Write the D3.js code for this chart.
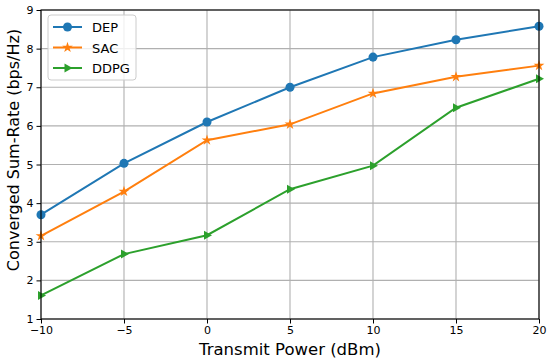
<!DOCTYPE html>
<html>
<head>
<meta charset="utf-8">
<script src="https://cdn.jsdelivr.net/npm/d3@7"></script>
<style>
  body { margin: 0; background: #fff; }
  text { font-family: "DejaVu Sans", sans-serif; }
</style>
</head>
<body>
<div id="chart"></div>
<script>
// data
const powers = [-10, -5, 0, 5, 10, 15, 20];
const dep = [3.70, 5.03, 6.10, 7.00, 7.78, 8.23, 8.58];
const sac = [3.15, 4.30, 5.63, 6.04, 6.84, 7.27, 7.56];
const ddpg = [1.61, 2.68, 3.17, 4.36, 4.97, 6.47, 7.22];
const seriesNames = ['DEP', 'SAC', 'DDPG'];
const xTicks = [-10, -5, 0, 5, 10, 15, 20];
const yTicks = [1, 2, 3, 4, 5, 6, 7, 8, 9];

const FIGURE = { WIDTH: 550, HEIGHT: 360 };
const MARGINS = { LEFT: 41, TOP: 10, RIGHT: 11, BOTTOM: 41 };
const PLOT = {
    WIDTH: FIGURE.WIDTH - MARGINS.LEFT - MARGINS.RIGHT,
    HEIGHT: FIGURE.HEIGHT - MARGINS.TOP - MARGINS.BOTTOM
};

const x = d3.scaleLinear().domain([-10, 20]).range([0, PLOT.WIDTH]);
const y = d3.scaleLinear().domain([1, 9]).range([PLOT.HEIGHT, 0]);

const series = [
    { name: seriesNames[0], values: dep, color: '#1f77b4', symbol: d3.symbolCircle, size: 64 },
    { name: seriesNames[1], values: sac, color: '#ff7f0e', symbol: d3.symbolStar, size: 36 },
    { name: seriesNames[2], values: ddpg, color: '#2ca02c', symbol: 'tri', size: 5 }
];

function marker(g, s) {
    if (s.symbol === 'tri') {
        const r = s.size;
        g.append('path')
            .attr('d', `M${r},0L${-r * 0.6},${-r * 0.9}L${-r * 0.6},${r * 0.9}Z`)
            .attr('fill', s.color);
    } else {
        g.append('path')
            .attr('d', d3.symbol().type(s.symbol).size(s.size)())
            .attr('fill', s.color);
    }
}

const svg = d3.select('#chart').append('svg')
    .attr('width', FIGURE.WIDTH)
    .attr('height', FIGURE.HEIGHT);

const plot = svg.append('g')
    .attr('transform', `translate(${MARGINS.LEFT}, ${MARGINS.TOP})`);

// grid
plot.append('g').selectAll('line').data(xTicks).enter().append('line')
    .attr('x1', d => x(d)).attr('x2', d => x(d))
    .attr('y1', 0).attr('y2', PLOT.HEIGHT)
    .attr('stroke', '#b0b0b0').attr('stroke-width', 1.1);
plot.append('g').selectAll('line').data(yTicks).enter().append('line')
    .attr('y1', d => y(d)).attr('y2', d => y(d))
    .attr('x1', 0).attr('x2', PLOT.WIDTH)
    .attr('stroke', '#b0b0b0').attr('stroke-width', 1.1);

// lines + markers
const line = d3.line().x((d, i) => x(powers[i])).y(d => y(d));
series.forEach(s => {
    plot.append('path')
        .datum(s.values)
        .attr('d', line)
        .attr('fill', 'none')
        .attr('stroke', s.color)
        .attr('stroke-width', 2);
    s.values.forEach((v, i) => {
        const g = plot.append('g').attr('transform', `translate(${x(powers[i])}, ${y(v)})`);
        marker(g, s);
    });
});

// frame
plot.append('rect')
    .attr('width', PLOT.WIDTH).attr('height', PLOT.HEIGHT)
    .attr('fill', 'none').attr('stroke', '#000').attr('stroke-width', 1.1);

// axes
const xAxis = d3.axisBottom(x).tickValues(xTicks).tickSize(4.5).tickPadding(3)
    .tickFormat(d => d < 0 ? '\u2212' + Math.abs(d) : d);
const yAxis = d3.axisLeft(y).tickValues(yTicks).tickSize(4.5).tickPadding(3);

const gx = plot.append('g').attr('transform', `translate(0, ${PLOT.HEIGHT})`).call(xAxis);
const gy = plot.append('g').call(yAxis);
[gx, gy].forEach(g => {
    g.select('.domain').remove();
    g.selectAll('text').attr('font-size', 11).attr('fill', '#000')
        .attr('font-family', '"DejaVu Sans", sans-serif');
    g.selectAll('line').attr('stroke', '#000');
});

// axis labels
svg.append('text')
    .attr('x', MARGINS.LEFT + PLOT.WIDTH / 2)
    .attr('y', 355)
    .attr('text-anchor', 'middle')
    .attr('font-size', 16.5)
    .text('Transmit Power (dBm)');
svg.append('text')
    .attr('transform', 'translate(19, 150) rotate(-90)')
    .attr('text-anchor', 'middle')
    .attr('font-size', 16)
    .text('Converged Sum-Rate (bps/Hz)');

// legend
const legend = plot.append('g').attr('transform', 'translate(7, 5)');
legend.append('rect')
    .attr('width', 88).attr('height', 65).attr('rx', 3)
    .attr('fill', '#fff').attr('fill-opacity', 0.8)
    .attr('stroke', '#cccccc');
series.forEach((s, i) => {
    const row = legend.append('g').attr('transform', `translate(0, ${12 + i * 20.5})`);
    row.append('line').attr('x1', 5).attr('x2', 34)
        .attr('stroke', s.color).attr('stroke-width', 2);
    const m = row.append('g').attr('transform', 'translate(19.5, 0)');
    marker(m, s);
    row.append('text').attr('x', 44).attr('y', 5)
        .attr('font-size', 13).text(s.name);
});
</script>
</body>
</html>
